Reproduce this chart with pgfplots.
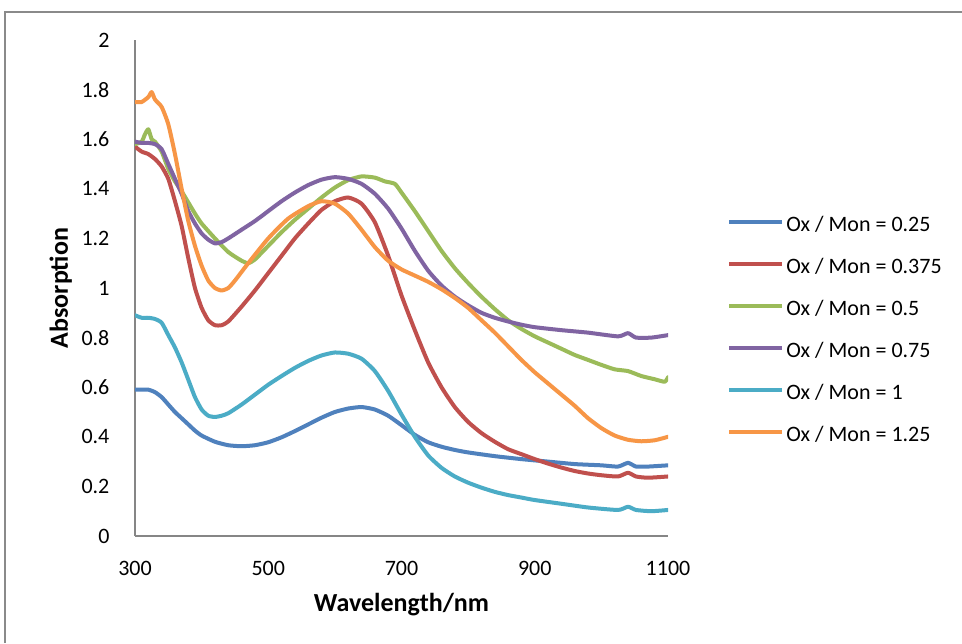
\documentclass[border=0pt]{standalone}
\usepackage{fontspec}
\setmainfont{Carlito}
\usepackage{pgfplots}
\pgfplotsset{compat=1.18}

\definecolor{cBlue}{HTML}{4F81BD}
\definecolor{cRed}{HTML}{C0504D}
\definecolor{cGreen}{HTML}{9BBB59}
\definecolor{cPurple}{HTML}{8064A2}
\definecolor{cAqua}{HTML}{4BACC6}
\definecolor{cOrange}{HTML}{F79646}
\definecolor{frameGray}{HTML}{8A8A8A}
\definecolor{axisGray}{HTML}{868686}

\begin{document}
\begin{tikzpicture}
% page: 721.5pt x 482.25pt
\useasboundingbox[fill=white] (0,0) rectangle (721.5pt,482.25pt);
\draw[frameGray, line width=0.8pt] (3.75pt,0) -- (3.75pt,473.25pt) -- (721.5pt,473.25pt);

\begin{axis}[
  at={(101.25pt,80.25pt)}, anchor=south west,
  scale only axis, width=399.75pt, height=372pt,
  xmin=300, xmax=1100, ymin=0, ymax=2,
  axis lines*=left,
  axis line style={draw=axisGray, line width=0.8pt},
  major tick length=0pt,
  xtick={300,500,700,900,1100},
  xticklabels={300,500,700,900,1100},
  ytick={0,0.2,0.4,0.6,0.8,1,1.2,1.4,1.6,1.8,2},
  yticklabels={0,0.2,0.4,0.6,0.8,1,1.2,1.4,1.6,1.8,2},
  tick label style={font=\fontsize{16.5}{18}\selectfont, inner sep=0pt},
  xticklabel shift=19pt,
  yticklabel shift=19pt,
  xlabel={Wavelength/nm},
  ylabel={Absorption},
  xlabel style={at={(axis description cs:0.5,-0.115)}, anchor=north, inner sep=0pt,
    font=\fontsize{19.5}{22}\selectfont\bfseries},
  ylabel style={at={(axis description cs:-0.118,0.5)}, anchor=south, inner sep=0pt,
    font=\fontsize{19.5}{22}\selectfont\bfseries},
  every axis plot/.append style={line width=3pt, line join=round, line cap=round, smooth, tension=0.35},
  legend cell align=left,
  legend image code/.code={\draw[#1, line width=3pt, line cap=butt] (0pt,2.5pt) -- (39.75pt,2.5pt);},
  legend style={at={(axis description cs:1.1107,0.415)}, anchor=west,
    draw=none, fill=none, inner sep=0pt, row sep=15.5pt, column sep=1.5pt,
    font=\fontsize{16.5}{18}\selectfont,
    nodes={inner sep=0pt, text height=13pt, text depth=3pt}},
]

% Ox / Mon = 0.25
\addplot[cBlue] coordinates {
(300,0.59) (310,0.59) (320,0.59) (330,0.58) (340,0.56) (350,0.53) (360,0.50)
(370,0.475) (380,0.45) (390,0.425) (400,0.405) (420,0.38) (440,0.366) (460,0.362)
(480,0.366) (500,0.378) (520,0.398) (540,0.423) (560,0.45) (580,0.477) (600,0.50)
(620,0.514) (640,0.52) (660,0.51) (680,0.485) (700,0.447) (720,0.408) (740,0.378)
(760,0.36) (780,0.347) (800,0.337) (840,0.322) (880,0.31) (920,0.30) (960,0.29)
(1000,0.285) (1025,0.28) (1040,0.295) (1052,0.28) (1070,0.28) (1100,0.285)};
\addlegendentry{Ox / Mon = 0.25}

% Ox / Mon = 0.375
\addplot[cRed] coordinates {
(300,1.57) (310,1.55) (320,1.54) (330,1.52) (340,1.49) (350,1.44) (360,1.35)
(370,1.25) (380,1.12) (390,1.00) (400,0.92) (410,0.87) (420,0.85) (430,0.85)
(440,0.865) (460,0.925) (480,0.99) (500,1.06) (520,1.13) (540,1.20) (560,1.26)
(580,1.315) (600,1.35) (620,1.365) (640,1.34) (660,1.265) (680,1.13) (700,0.97)
(720,0.83) (740,0.70) (760,0.60) (780,0.52) (800,0.46) (820,0.415) (840,0.38)
(860,0.35) (880,0.33) (900,0.31) (920,0.292) (940,0.276) (960,0.262) (980,0.252)
(1000,0.245) (1025,0.24) (1040,0.255) (1052,0.24) (1070,0.235) (1100,0.24)};
\addlegendentry{Ox / Mon = 0.375}

% Ox / Mon = 0.5
\addplot[cGreen] coordinates {
(300,1.58) (310,1.59) (315,1.62) (320,1.64) (325,1.60) (330,1.59) (340,1.55)
(350,1.48) (360,1.43) (370,1.39) (380,1.345) (390,1.30) (400,1.26) (420,1.20)
(440,1.145) (460,1.11) (470,1.10) (480,1.115) (500,1.17) (520,1.225) (540,1.275)
(560,1.32) (580,1.365) (600,1.405) (620,1.435) (640,1.45) (660,1.445) (675,1.43)
(690,1.42) (700,1.385) (720,1.31) (740,1.23) (760,1.15) (780,1.08) (800,1.02)
(820,0.965) (840,0.915) (860,0.87) (880,0.835) (900,0.805) (920,0.78) (940,0.755)
(960,0.73) (980,0.71) (1000,0.69) (1020,0.672) (1040,0.665) (1060,0.645)
(1080,0.632) (1095,0.622) (1100,0.64)};
\addlegendentry{Ox / Mon = 0.5}

% Ox / Mon = 0.75
\addplot[cPurple] coordinates {
(300,1.59) (310,1.585) (320,1.585) (330,1.58) (340,1.56) (350,1.50) (360,1.44)
(370,1.38) (380,1.31) (390,1.26) (400,1.22) (410,1.195) (420,1.18) (430,1.185)
(440,1.20) (460,1.235) (480,1.27) (500,1.31) (520,1.35) (540,1.385) (560,1.415)
(580,1.437) (600,1.447) (620,1.44) (640,1.42) (660,1.38) (680,1.32) (700,1.24)
(720,1.15) (740,1.07) (760,1.01) (780,0.965) (800,0.93) (820,0.90) (840,0.88)
(860,0.865) (880,0.852) (900,0.842) (940,0.83) (980,0.82) (1025,0.805) (1040,0.818)
(1052,0.80) (1075,0.80) (1100,0.81)};
\addlegendentry{Ox / Mon = 0.75}

% Ox / Mon = 1
\addplot[cAqua] coordinates {
(300,0.89) (310,0.88) (320,0.88) (330,0.875) (340,0.86) (350,0.81) (360,0.76)
(370,0.70) (380,0.63) (390,0.56) (400,0.51) (410,0.485) (420,0.48) (430,0.485)
(440,0.495) (460,0.53) (480,0.57) (500,0.61) (520,0.645) (540,0.678) (560,0.706)
(580,0.728) (600,0.74) (620,0.735) (640,0.715) (660,0.665) (680,0.585) (700,0.49)
(720,0.40) (740,0.325) (760,0.275) (780,0.24) (800,0.215) (820,0.195) (840,0.178)
(860,0.165) (880,0.155) (900,0.145) (940,0.13) (980,0.115) (1025,0.105)
(1040,0.118) (1052,0.105) (1075,0.10) (1100,0.105)};
\addlegendentry{Ox / Mon = 1}

% Ox / Mon = 1.25
\addplot[cOrange] coordinates {
(300,1.75) (310,1.75) (320,1.77) (325,1.79) (330,1.76) (340,1.73) (350,1.66)
(360,1.54) (370,1.40) (380,1.27) (390,1.17) (400,1.09) (410,1.03) (420,1.00)
(430,0.99) (440,1.00) (450,1.03) (470,1.10) (500,1.20) (530,1.28) (560,1.33)
(580,1.35) (600,1.34) (620,1.30) (640,1.235) (660,1.165) (680,1.11) (700,1.075)
(720,1.05) (740,1.025) (760,0.995) (780,0.96) (800,0.92) (820,0.87) (840,0.82)
(860,0.765) (880,0.71) (900,0.66) (920,0.615) (940,0.57) (960,0.525) (980,0.475)
(1000,0.435) (1020,0.405) (1040,0.388) (1060,0.382) (1080,0.386) (1100,0.40)};
\addlegendentry{Ox / Mon = 1.25}

\end{axis}
\end{tikzpicture}
\end{document}
